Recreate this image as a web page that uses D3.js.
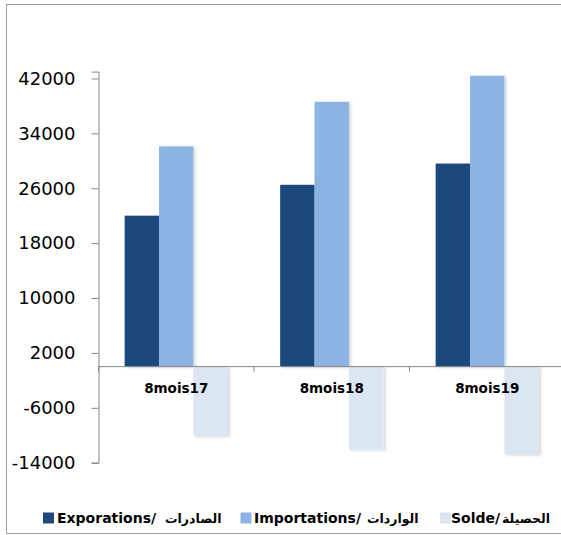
<!DOCTYPE html>
<html>
<head>
<meta charset="utf-8">
<script src="https://cdn.jsdelivr.net/npm/d3@7"></script>
<style>
  html, body { margin: 0; padding: 0; background: #fff; }
  svg { display: block; }
</style>
</head>
<body>
<svg id="chart" width="561" height="535"></svg>
<script>
// ---- data ----
const categories = ["8mois17", "8mois18", "8mois19"];
const seriesNames = ["Exportations", "Importations", "Solde"];
const exportsVals = [22000, 26500, 29600];
const importsVals = [32100, 38600, 42400];
const soldeVals = [-10100, -12100, -12800];
const yTickValues = [-14000, -6000, 2000, 10000, 18000, 26000, 34000, 42000];
const legendLatin = ["Exporations/", "Importations/", "Solde/"];
const legendArabic = ["الصادرات", "الواردات", "الحصيلة"];
const colors = ["#1F497D", "#8DB3E2", "#DCE6F2"];

const seriesValues = [exportsVals, importsVals, soldeVals];

const svg = d3.select("#chart");

// drop shadow
const defs = svg.append("defs");
const f = defs.append("filter").attr("id", "shadow").attr("x", "-20%").attr("y", "-5%").attr("width", "150%").attr("height", "115%");
f.append("feDropShadow").attr("dx", 2).attr("dy", 1).attr("stdDeviation", 1.5).attr("flood-color", "#000").attr("flood-opacity", 0.16);

// outer border
svg.append("rect").attr("x", 6.5).attr("y", 4.5).attr("width", 600).attr("height", 529)
  .attr("fill", "#fff").attr("stroke", "#a0a0a0").attr("stroke-width", 1);

const x0 = 98.5;
const bandW = 155.5;
const x = d3.scaleBand().domain(categories).range([x0, x0 + bandW * categories.length]).padding(0);
const xs = d3.scaleBand().domain(seriesNames).range([0, x.bandwidth()]).paddingInner(0).paddingOuter(0.76);
const y = d3.scaleLinear().domain([-14000, 43000]).range([462.7, 71.6]);

// bars
const rows = [];
categories.forEach((c, i) => seriesNames.forEach((s, j) => rows.push({ c, s, v: seriesValues[j][i], j })));
svg.append("g").selectAll("rect").data(rows).join("rect")
  .attr("x", d => x(d.c) + xs(d.s))
  .attr("width", xs.bandwidth())
  .attr("y", d => y(Math.max(0, d.v)))
  .attr("height", d => Math.abs(y(d.v) - y(0)))
  .attr("fill", d => colors[d.j])
  .attr("filter", "url(#shadow)");

// y axis
const yAxis = d3.axisLeft(y).tickValues(yTickValues).tickFormat(d => String(d)).tickSizeOuter(0).tickSize(7).tickPadding(16);
const gy = svg.append("g").attr("transform", `translate(${x0},0)`).call(yAxis);
gy.select(".domain").attr("stroke", "#868686");
gy.selectAll(".tick line").attr("stroke", "#868686");
gy.selectAll(".tick text").attr("font-family", "'DejaVu Sans', sans-serif").attr("font-size", 18).attr("fill", "#000");

// x axis at zero
const gx = svg.append("g");
gx.append("line").attr("x1", x0).attr("x2", 561).attr("y1", y(0)).attr("y2", y(0)).attr("stroke", "#868686");
const boundaries = categories.map(c => x(c)).concat([x0 + bandW * categories.length]);
gx.selectAll("line.tk").data(boundaries).join("line").attr("class", "tk")
  .attr("x1", d => d).attr("x2", d => d).attr("y1", y(0)).attr("y2", y(0) + 5).attr("stroke", "#868686");
gx.selectAll("text").data(categories).join("text")
  .attr("x", d => x(d) + x.bandwidth() / 2)
  .attr("y", 393)
  .attr("text-anchor", "middle")
  .attr("font-family", "'DejaVu Sans', sans-serif")
  .attr("font-weight", "bold")
  .attr("font-size", 13.5)
  .attr("fill", "#000")
  .text(d => d);

// legend
const legX = [43, 240.5, 440];
const latinX = [57, 254, 451];
const arabicX = [165, 367, 502];
const lg = svg.append("g");
legX.forEach((lx, i) => {
  lg.append("rect").attr("x", lx).attr("y", 512.5).attr("width", 11).attr("height", 11).attr("fill", colors[i]);
  lg.append("text").attr("x", latinX[i]).attr("y", 522.5)
    .attr("font-family", "'DejaVu Sans', sans-serif").attr("font-weight", "bold").attr("font-size", 14)
    .attr("fill", "#000").text(legendLatin[i]);
  lg.append("text").attr("x", arabicX[i]).attr("y", 522.5)
    .attr("direction", "rtl").attr("text-anchor", "end")
    .attr("font-family", "'DejaVu Sans', sans-serif").attr("font-weight", "bold").attr("font-size", 12.5)
    .attr("fill", "#000").text(legendArabic[i]);
});
</script>
</body>
</html>
